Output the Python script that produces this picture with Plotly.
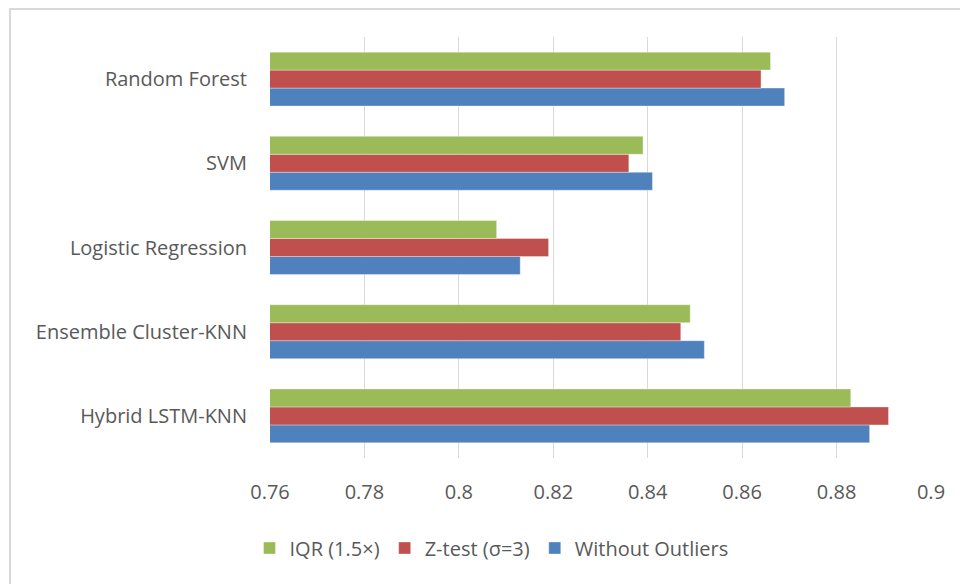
import plotly.graph_objects as go

# Model names, bottom to top on the category axis
models = ["Hybrid LSTM-KNN", "Ensemble Cluster-KNN", "Logistic Regression", "SVM", "Random Forest"]

# Scores per preprocessing variant
without_outliers = [0.887, 0.852, 0.813, 0.841, 0.869]
z_test = [0.891, 0.847, 0.819, 0.836, 0.864]
iqr = [0.883, 0.849, 0.808, 0.839, 0.866]

x_ticks = [0.76, 0.78, 0.80, 0.82, 0.84, 0.86, 0.88, 0.90]
x_tick_text = ["0.76", "0.78", "0.8", "0.82", "0.84", "0.86", "0.88", "0.9"]

W, H = 960, 584
ML, MR, MT, MB = 270, 29, 37, 126
FONT = "Open Sans, Liberation Sans, sans-serif"
TXT = "#595959"
FS = 20

fig = go.Figure()
# first trace sits at the bottom of each group
for name, vals, color in [
    ("Without Outliers", without_outliers, "#4F81BD"),
    ("Z-test (σ=3)", z_test, "#C0504D"),
    ("IQR (1.5×)", iqr, "#9BBB59"),
]:
    fig.add_trace(go.Bar(
        y=models, x=vals, name=name, orientation="h",
        marker=dict(color=color, line=dict(color="rgba(255,255,255,0.35)", width=1)),
    ))

# light frame around the whole chart area
pw = W - ML - MR
ph = H - MT - MB
def px_to_paper_x(px):
    return (px - ML) / pw
def px_to_paper_y(py):
    return 1 - (py - MT) / ph

fig.add_shape(
    type="rect", xref="paper", yref="paper",
    x0=px_to_paper_x(10), x1=px_to_paper_x(990),
    y0=px_to_paper_y(620), y1=px_to_paper_y(9),
    line=dict(color="#D9D9D9", width=2), fillcolor="rgba(0,0,0,0)", layer="below",
)

fig.update_layout(
    width=W, height=H,
    margin=dict(l=ML, r=MR, t=MT, b=MB, autoexpand=False),
    paper_bgcolor="white", plot_bgcolor="white",
    barmode="group", bargap=0.36, bargroupgap=0,
    font=dict(family=FONT, size=FS, color=TXT),
    showlegend=True,
    legend=dict(
        orientation="h", traceorder="reversed",
        xref="container", x=0.512, xanchor="center",
        yref="container", y=1 - 548 / H, yanchor="middle",
        font=dict(size=FS, color=TXT),
        itemwidth=30, tracegroupgap=0,
    ),
    xaxis=dict(
        range=[0.76, 0.90], tickvals=x_ticks, ticktext=x_tick_text,
        showgrid=True, gridcolor="#D9D9D9", gridwidth=1,
        zeroline=False, showline=False, ticks="", tickangle=0,
        ticklabelstandoff=20,
        tickfont=dict(size=FS, color=TXT),
    ),
    yaxis=dict(
        categoryorder="array", categoryarray=models,
        showgrid=False, zeroline=False, showline=False, ticks="",
        ticklabelstandoff=22,
        tickfont=dict(size=FS, color=TXT),
    ),
)

fig.write_html("out.html")
